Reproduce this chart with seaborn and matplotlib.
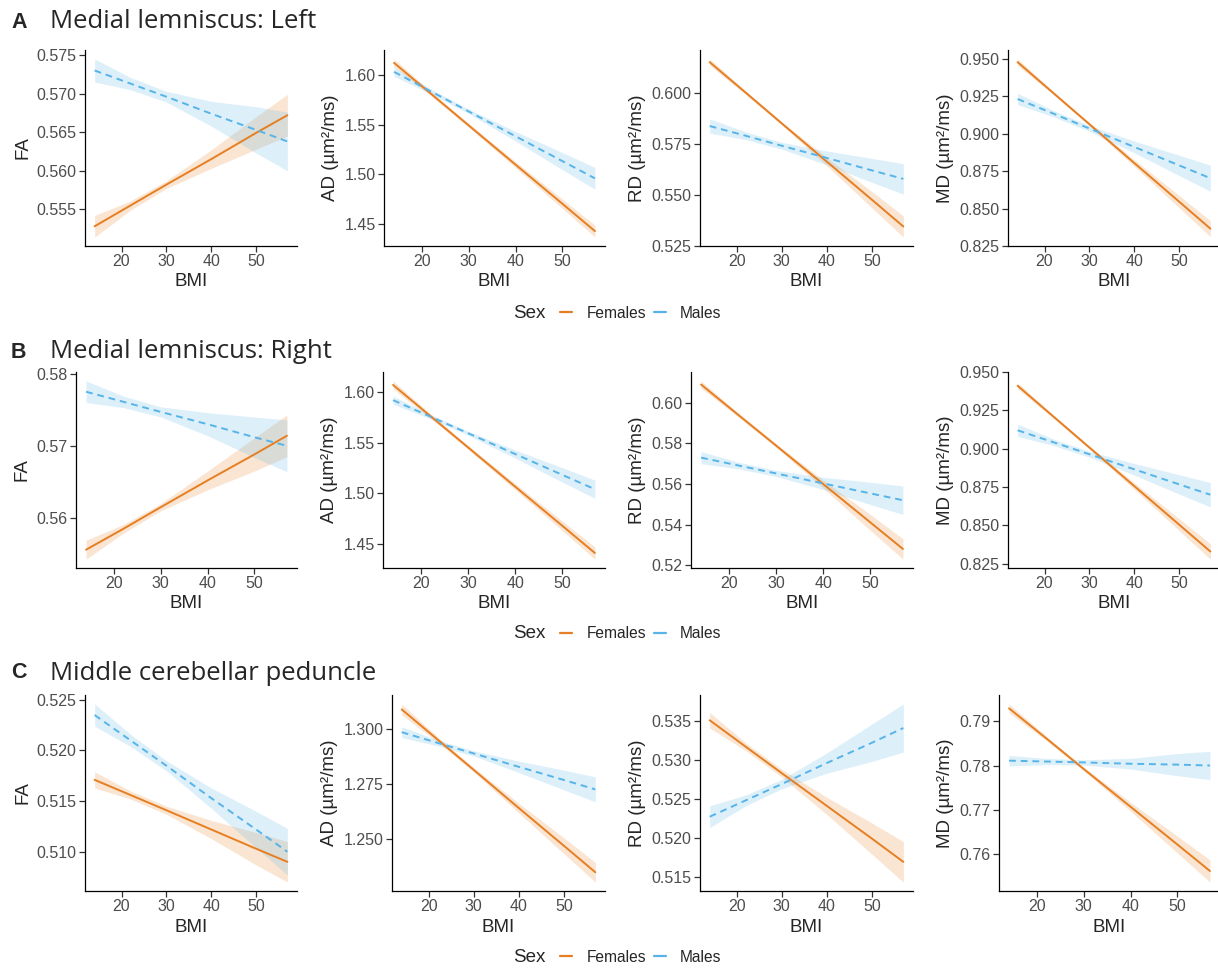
import matplotlib
matplotlib.use("Agg")
import matplotlib.pyplot as plt
from matplotlib.lines import Line2D
import seaborn as sns
import pandas as pd

BMI_KNOTS = [14, 22, 30, 40, 50, 57]
MEASURES = ["FA", "AD", "RD", "MD"]
SEXES = ["Females", "Males"]
PANEL_LETTERS = ["A", "B", "C"]
REGIONS = ["Medial lemniscus: Left", "Medial lemniscus: Right", "Middle cerebellar peduncle"]

# fitted values, one row per measure (FA, AD, RD, MD)
A_FEMALES_FIT = [
    [0.5528, 0.5555, 0.5582, 0.5615, 0.5649, 0.5672],
    [1.612, 1.5806, 1.5491, 1.5098, 1.4706, 1.443],
    [0.6154, 0.6004, 0.5853, 0.5665, 0.5478, 0.5346],
    [0.9478, 0.9271, 0.9064, 0.8805, 0.8547, 0.8366],
]
A_FEMALES_CI = [  # half widths of the 95% band
    [0.0014, 0.0006, 0.0005, 0.0012, 0.0021, 0.0027],
    [0.0040, 0.0022, 0.0020, 0.0030, 0.0047, 0.0060],
    [0.0016, 0.0009, 0.0008, 0.0020, 0.0040, 0.0052],
    [0.0022, 0.0011, 0.0010, 0.0022, 0.0041, 0.0053],
]
A_MALES_FIT = [
    [0.5730, 0.5713, 0.5696, 0.5674, 0.5653, 0.5638],
    [1.603, 1.5831, 1.5632, 1.5383, 1.5134, 1.496],
    [0.584, 0.5792, 0.5743, 0.5683, 0.5622, 0.558],
    [0.9232, 0.9134, 0.9035, 0.8912, 0.8789, 0.8703],
]
A_MALES_CI = [
    [0.0015, 0.0008, 0.0007, 0.0016, 0.0030, 0.0038],
    [0.0045, 0.0025, 0.0022, 0.0048, 0.0086, 0.0110],
    [0.0035, 0.0019, 0.0017, 0.0034, 0.0059, 0.0075],
    [0.0038, 0.0021, 0.0019, 0.0039, 0.0068, 0.0087],
]

B_FEMALES_FIT = [
    [0.5556, 0.5585, 0.5615, 0.5652, 0.5688, 0.5714],
    [1.607, 1.5761, 1.5452, 1.5066, 1.4681, 1.441],
    [0.609, 0.5939, 0.5789, 0.5600, 0.5412, 0.528],
    [0.941, 0.9209, 0.9008, 0.8757, 0.8506, 0.833],
]
B_FEMALES_CI = [
    [0.0013, 0.0006, 0.0005, 0.0013, 0.0023, 0.0029],
    [0.0040, 0.0022, 0.0020, 0.0030, 0.0047, 0.0060],
    [0.0018, 0.0010, 0.0009, 0.0020, 0.0039, 0.0050],
    [0.0020, 0.0011, 0.0010, 0.0021, 0.0039, 0.0050],
]
B_MALES_FIT = [
    [0.5775, 0.5761, 0.5747, 0.5730, 0.5712, 0.5700],
    [1.592, 1.5756, 1.5593, 1.5388, 1.5183, 1.504],
    [0.573, 0.5691, 0.5652, 0.5603, 0.5554, 0.552],
    [0.912, 0.9042, 0.8964, 0.8866, 0.8768, 0.870],
]
B_MALES_CI = [
    [0.0015, 0.0008, 0.0007, 0.0016, 0.0028, 0.0036],
    [0.0040, 0.0022, 0.0020, 0.0040, 0.0071, 0.0090],
    [0.0030, 0.0016, 0.0015, 0.0030, 0.0055, 0.0070],
    [0.0040, 0.0021, 0.0019, 0.0038, 0.0063, 0.0080],
]

C_FEMALES_FIT = [
    [0.5171, 0.5156, 0.5141, 0.5122, 0.5103, 0.5090],
    [1.309, 1.2952, 1.2814, 1.2640, 1.2468, 1.2347],
    [0.5351, 0.5317, 0.5283, 0.5241, 0.5199, 0.5169],
    [0.7929, 0.7861, 0.7792, 0.7707, 0.7622, 0.7562],
]
C_FEMALES_CI = [
    [0.0008, 0.0004, 0.0004, 0.0009, 0.0016, 0.0020],
    [0.0025, 0.0012, 0.0010, 0.0022, 0.0036, 0.0045],
    [0.0010, 0.0005, 0.0005, 0.0011, 0.0020, 0.0026],
    [0.0010, 0.0005, 0.0004, 0.0010, 0.0019, 0.0025],
]
C_MALES_FIT = [
    [0.5235, 0.5210, 0.5185, 0.5153, 0.5122, 0.5100],
    [1.2986, 1.2937, 1.2889, 1.2828, 1.2768, 1.2725],
    [0.5227, 0.5248, 0.5269, 0.5296, 0.5322, 0.5341],
    [0.7811, 0.7809, 0.7807, 0.7804, 0.7802, 0.7800],
]
C_MALES_CI = [
    [0.0011, 0.0006, 0.0005, 0.0010, 0.0018, 0.0023],
    [0.0025, 0.0013, 0.0012, 0.0026, 0.0045, 0.0057],
    [0.0014, 0.0007, 0.0006, 0.0013, 0.0024, 0.0031],
    [0.0012, 0.0007, 0.0006, 0.0012, 0.0025, 0.0032],
]

A_YTICKS = [["0.555", "0.560", "0.565", "0.570", "0.575"],
            ["1.45", "1.50", "1.55", "1.60"],
            ["0.525", "0.550", "0.575", "0.600"],
            ["0.825", "0.850", "0.875", "0.900", "0.925", "0.950"]]
B_YTICKS = [["0.56", "0.57", "0.58"],
            ["1.45", "1.50", "1.55", "1.60"],
            ["0.52", "0.54", "0.56", "0.58", "0.60"],
            ["0.825", "0.850", "0.875", "0.900", "0.925", "0.950"]]
C_YTICKS = [["0.510", "0.515", "0.520", "0.525"],
            ["1.250", "1.275", "1.300"],
            ["0.515", "0.520", "0.525", "0.530", "0.535"],
            ["0.76", "0.77", "0.78", "0.79"]]
X_TICKS = [20, 30, 40, 50]

PALETTE = {"Females": "#E67E22", "Males": "#56B4E9"}

fit_tables = [(A_FEMALES_FIT, A_FEMALES_CI, A_MALES_FIT, A_MALES_CI),
              (B_FEMALES_FIT, B_FEMALES_CI, B_MALES_FIT, B_MALES_CI),
              (C_FEMALES_FIT, C_FEMALES_CI, C_MALES_FIT, C_MALES_CI)]
ytick_tables = [A_YTICKS, B_YTICKS, C_YTICKS]

rows = []
for r, (ff, fc, mf, mc) in enumerate(fit_tables):
    for m, measure in enumerate(MEASURES):
        for sex, fit, ci in (("Females", ff, fc), ("Males", mf, mc)):
            for k, bmi in enumerate(BMI_KNOTS):
                rows.append({"row": r, "measure": measure, "sex": sex, "bmi": bmi,
                             "fit": fit[m][k], "lo": fit[m][k] - ci[m][k],
                             "hi": fit[m][k] + ci[m][k]})
df = pd.DataFrame(rows)

sns.set_theme(style="ticks")
plt.rcParams["font.family"] = ["Liberation Sans", "DejaVu Sans"]
plt.rcParams["axes.linewidth"] = 0.9
plt.rcParams["xtick.major.width"] = 0.9
plt.rcParams["ytick.major.width"] = 0.9

W, H = 1218, 969
fig = plt.figure(figsize=(W / 100, H / 100), dpi=100)

ROW_TOP = [50, 372, 695]
ROW_BOTTOM = [246, 568, 891]
PANEL_RIGHT = [297, 605, 913, 1220]
PANEL_LEFT = [[85, 384, 700, 1008], [76, 383, 691, 1008], [85, 392, 700, 999]]
TITLE_Y = [22, 352, 673]
LEGEND_Y = [313, 634, 957]

for r in range(3):
    fig.text(11 / W, 1 - TITLE_Y[r] / H, PANEL_LETTERS[r], fontsize=15.5, fontweight="bold",
             va="center", ha="left")
    fig.text(50 / W, 1 - TITLE_Y[r] / H, REGIONS[r], fontsize=18.5, va="center", ha="left",
             family=["Open Sans", "DejaVu Sans"])
    for m, measure in enumerate(MEASURES):
        left = PANEL_LEFT[r][m]
        ax = fig.add_axes([left / W, 1 - ROW_BOTTOM[r] / H,
                           (PANEL_RIGHT[m] - left) / W, (ROW_BOTTOM[r] - ROW_TOP[r]) / H])
        sub = df[(df["row"] == r) & (df["measure"] == measure)]
        for sex in SEXES:
            s = sub[sub["sex"] == sex]
            ax.fill_between(s["bmi"], s["lo"], s["hi"], color=PALETTE[sex], alpha=0.2, lw=0)
        sns.lineplot(data=sub, x="bmi", y="fit", hue="sex", style="sex", hue_order=SEXES,
                     style_order=SEXES, palette=PALETTE,
                     dashes={"Females": "", "Males": (3.5, 2.5)},
                     linewidth=1.4, errorbar=None, legend=False, ax=ax)
        lo, hi = sub["lo"].min(), sub["hi"].max()
        pad = 0.05 * (hi - lo)
        ax.set_ylim(lo - pad, hi + pad)
        ax.set_xlim(11.85, 59.15)
        labels = ytick_tables[r][m]
        ax.set_yticks([float(t) for t in labels])
        ax.set_yticklabels(labels)
        ax.set_xticks(X_TICKS)
        ax.tick_params(labelsize=11.5, labelcolor="#4D4D4D", length=4, pad=2, color="#333333")
        ax.set_xlabel("BMI", fontsize=13.5, labelpad=3)
        ax.set_ylabel("FA" if measure == "FA" else f"{measure} (µm²/ms)", fontsize=13.5, labelpad=4)
        sns.despine(ax=ax)
        for sp in ax.spines.values():
            sp.set_color("black")

    fig.text(513 / W, 1 - LEGEND_Y[r] / H, "Sex", fontsize=13.5, va="center", ha="left")
    handles = [Line2D([0], [0], color=PALETTE[s], lw=1.6) for s in SEXES]
    fig.legend(handles, SEXES, loc="center left", bbox_to_anchor=(560 / W, 1 - LEGEND_Y[r] / H),
               ncol=2, frameon=False, fontsize=11.2, handlelength=0.8, handletextpad=0.9,
               columnspacing=0.5, borderpad=0, borderaxespad=0)

fig.savefig("out.png", dpi=100, facecolor="white")
